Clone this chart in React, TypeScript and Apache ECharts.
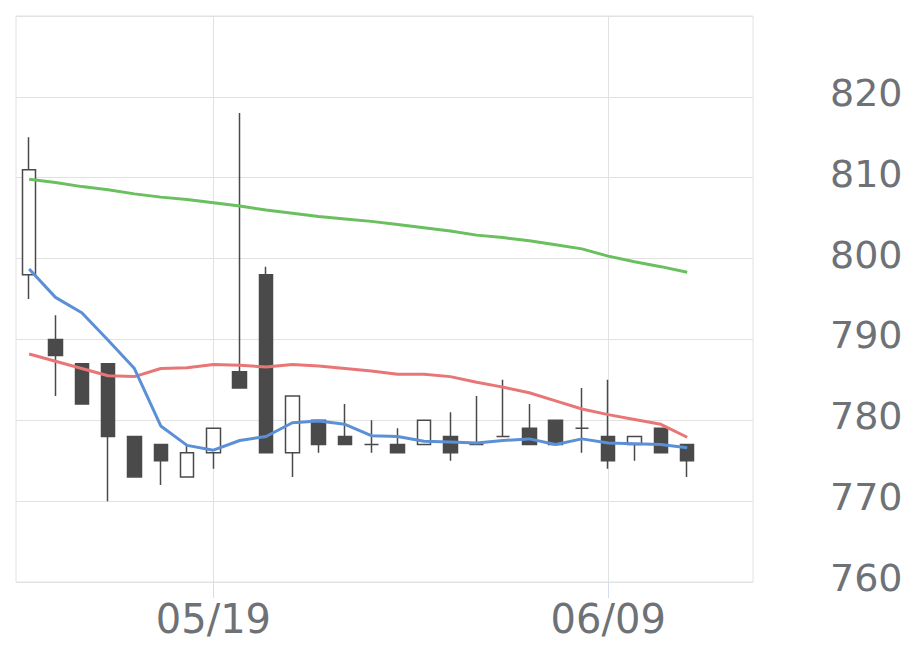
import React, { useEffect, useRef } from "react";
import * as echarts from "echarts";

const dates = [
  "05/08", "05/09", "05/12", "05/13", "05/14", "05/15", "05/16", "05/19",
  "05/20", "05/21", "05/22", "05/23", "05/26", "05/27", "05/28", "05/29",
  "05/30", "06/02", "06/03", "06/04", "06/05", "06/06", "06/09", "06/10",
  "06/11", "06/12", "06/13", "06/16",
];
const shownLabels = ["05/19", "06/09"];

// [open, close, low, high]
const candles = [
  [798, 811, 795, 815],
  [790, 788, 783, 793],
  [787, 782, 782, 787],
  [787, 778, 770, 787],
  [778, 773, 773, 778],
  [777, 775, 772, 777],
  [773, 776, 773, 777],
  [776, 779, 774, 779],
  [786, 784, 784, 818],
  [798, 776, 776, 799],
  [776, 783, 773, 783],
  [780, 777, 776, 780],
  [778, 777, 777, 782],
  [777, 777, 776, 780],
  [777, 776, 776, 779],
  [777, 780, 777, 780],
  [778, 776, 775, 781],
  [777, 777, 777, 783],
  [778, 778, 778, 785],
  [779, 777, 777, 782],
  [780, 777, 777, 780],
  [779, 779, 776, 784],
  [778, 775, 774, 785],
  [777, 778, 775, 778],
  [779, 776, 776, 779],
  [777, 775, 773, 777],
];

const maShort = [
  798.7, 795.2, 793.3, 789.9, 786.4, 779.3, 776.9, 776.3, 777.5, 778.0,
  779.7, 779.9, 779.5, 778.1, 778.0, 777.4, 777.3, 777.2, 777.5, 777.7,
  777.0, 777.7, 777.2, 777.1, 777.0, 776.6,
];
const maMid = [
  788.2, 787.3, 786.4, 785.5, 785.4, 786.4, 786.5, 786.9, 786.8, 786.6,
  786.9, 786.7, 786.4, 786.1, 785.7, 785.7, 785.4, 784.7, 784.1, 783.4,
  782.4, 781.4, 780.7, 780.1, 779.5, 777.9,
];
const maLong = [
  809.8, 809.4, 808.9, 808.5, 808.0, 807.6, 807.3, 806.9, 806.5, 806.0,
  805.6, 805.2, 804.9, 804.6, 804.2, 803.8, 803.4, 802.9, 802.6, 802.2,
  801.7, 801.2, 800.3, 799.6, 799.0, 798.3,
];

const yTicks = [760, 770, 780, 790, 800, 810, 820];

export default function App() {
  const ref = useRef<HTMLDivElement>(null);
  useEffect(() => {
    document.body.style.margin = "0";
    if (!ref.current) return;
    const chart = echarts.init(ref.current, null, { renderer: "svg" });
    const textColor = "#6e7175";
    const gridColor = "#e2e2e2";
    const font = "'DejaVu Sans', sans-serif";
    const isShown = (_i: number, v: string) => shownLabels.indexOf(v) >= 0;
    chart.setOption({
      animation: false,
      backgroundColor: "#ffffff",
      grid: {
        left: 16,
        top: 16,
        right: 167,
        bottom: 87,
        show: true,
        borderColor: gridColor,
        borderWidth: 1,
        containLabel: false,
      },
      xAxis: {
        type: "category",
        data: dates,
        boundaryGap: true,
        axisLine: { show: false },
        axisTick: {
          show: true,
          alignWithLabel: true,
          interval: isShown,
          length: 16,
          lineStyle: { color: "#d3ddee" },
        },
        splitLine: {
          show: true,
          alignWithLabel: true,
          interval: isShown,
          lineStyle: { color: gridColor, width: 1 },
        },
        axisLabel: {
          interval: isShown,
          color: textColor,
          fontSize: 40,
          fontFamily: font,
          margin: 17,
        },
      },
      yAxis: {
        type: "value",
        position: "right",
        min: 760,
        max: 830,
        interval: 10,
        axisLine: { show: false },
        axisTick: { show: false },
        splitLine: { show: true, lineStyle: { color: gridColor, width: 1 } },
        axisLabel: {
          color: textColor,
          fontSize: 38,
          fontFamily: font,
          margin: 77,
          verticalAlign: "bottom",
          lineHeight: 8,
          formatter: (v: number) => (yTicks.indexOf(v) >= 0 ? String(v) : ""),
        },
      },
      series: [
        {
          type: "candlestick",
          data: candles,
          barWidth: 14,
          itemStyle: {
            color: "#ffffff",
            color0: "#4a4a4a",
            borderColor: "#4a4a4a",
            borderColor0: "#4a4a4a",
            borderWidth: 1.5,
          },
          z: 3,
        },
        {
          type: "line",
          data: maLong,
          showSymbol: false,
          lineStyle: { color: "#6abf5e", width: 3 },
          z: 4,
        },
        {
          type: "line",
          data: maMid,
          showSymbol: false,
          lineStyle: { color: "#e87676", width: 3 },
          z: 4,
        },
        {
          type: "line",
          data: maShort,
          showSymbol: false,
          lineStyle: { color: "#5b90d6", width: 3 },
          z: 4,
        },
      ],
    });
    return () => chart.dispose();
  }, []);
  return <div ref={ref} style={{ width: 920, height: 669 }} />;
}
